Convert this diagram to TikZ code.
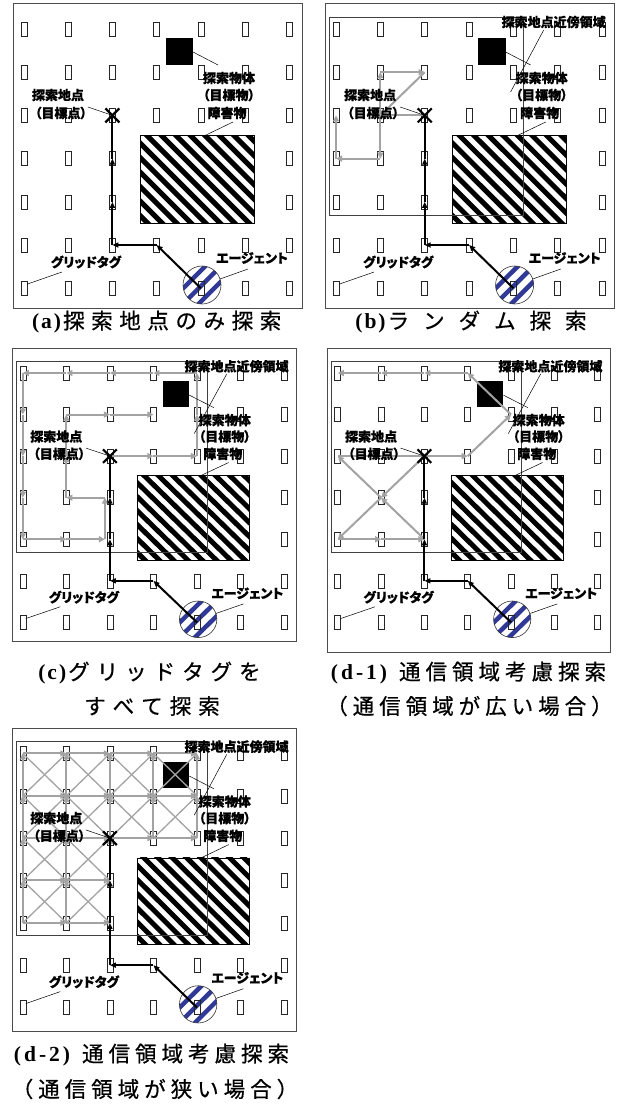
\documentclass[tikz,border=0pt]{standalone}
\usepackage{fontspec}
\usetikzlibrary{arrows.meta,calc}
\newfontfamily\jplbl[RawFeature=+palt, BoldFeatures={FakeBold=0.7}]{Noto Sans CJK JP}
\newfontfamily\jpcap[FakeBold=0.6]{Noto Sans CJK JP}
\newfontfamily\sercap{Liberation Serif}
\definecolor{gp}{RGB}{163,163,163}
\definecolor{agentblue}{RGB}{48,58,150}
\newlength\capls
\newcommand\capspaced[2]{\setlength\capls{#1}\capspacedaux#2\relax}
\def\capspacedaux#1{\ifx#1\relax\else#1\kern\capls\expandafter\capspacedaux\fi}

\tikzset{
  boxline/.style={draw=black!70, line width=0.8pt},
  tagbox/.style={draw=black!85, line width=0.6pt, minimum width=6pt, minimum height=14pt, inner sep=0pt, outer sep=0pt},
  lbl/.style={font=\jplbl\bfseries\fontsize{13}{14}\selectfont, inner sep=0pt},
  leader/.style={draw=black, line width=0.5pt},
  gpath/.style={draw=gp, line width=2pt, -{Triangle[length=6pt,width=6pt]}},
  gline/.style={draw=gp, line width=2pt},
  gdiag/.style={draw=gp, line width=1.3pt},
  bpath/.style={draw=black, line width=2pt, -{Triangle[length=6pt,width=5pt]}},
  bline/.style={draw=black, line width=2pt},
  nbr/.style={draw=black!75, line width=0.6pt},
  captxt/.style={font=\fontsize{21.5}{24}\selectfont, inner sep=0pt},
}

% #1 prefix, #2 x, #3 y, #4 xscale, #5 yscale, #6 box height
\newcommand\panelbase[6]{%
\begin{scope}[shift={(#2,#3)},xscale=#4,yscale=#5]
\draw[boxline] (0,0) rectangle (289,#6);
\begin{scope}
\clip (189,282) circle[radius=19];
\foreach \k in {-3,...,3}{\draw[agentblue,line width=4.5pt] ({159+\k*15.5},312) -- ++(60,-60);}
\end{scope}
\coordinate (#1-ac) at (189,282);
\draw[black!80,line width=0.6pt] (#1-ac) circle[radius=19];
\foreach \i in {0,...,6}{\foreach \j in {0,...,6}{\node[tagbox] (#1-\i-\j) at ({11+44.2*\i},{26+43.2*\j}) {};}}
\fill[white] (127,132.5) rectangle (241,220.5);
\begin{scope}
\clip (127,132.5) rectangle (241,220.5);
\foreach \k in {0,...,15}{\draw[black,line width=5pt] ({27+\k*14.5},127) -- ++(100,100);}
\end{scope}
\draw[black,line width=0.7pt] (127,132.5) rectangle (241,220.5);
\fill[black] (153,34.5) rectangle (180,61.5);
\coordinate (#1-n1) at (4,14);
\coordinate (#1-n2) at (198,212);
\end{scope}}

\newcommand\paneltop[6]{%
\begin{scope}[shift={(#2,#3)},xscale=#4,yscale=#5]
\draw[bpath] (#1-4-6.center) -- (#1-3-5.center);
\draw[bpath] (#1-3-5.center) -- (#1-2-5.center);
\draw[bpath] (#1-2-5.center) -- (#1-2-4.center);
\draw[bpath] (#1-2-4.center) -- (#1-2-3.center);
\draw[bline] (#1-2-3.center) -- (#1-2-2.center);
\draw[black,line width=2.2pt] (#1-2-2.center) ++(-7,-7) -- ++(14,14) (#1-2-2.center) ++(-7,7) -- ++(14,-14);
\node[lbl] (#1-lo1) at (216,75) {探索物体};
\node[lbl] (#1-lo2) at (216,92) {（目標物）};
\node[lbl] (#1-lob) at (214,110) {障害物};
\node[lbl] (#1-lt1) at (45,92) {探索地点};
\node[lbl] (#1-lt2) at (48,110) {（目標点）};
\node[lbl] (#1-lg) at (73,259) {グリッドタグ};
\node[lbl] (#1-la) at (239,255) {エージェント};
\coordinate (#1-sqr) at (180,49);
\coordinate (#1-k1) at (205,62);
\draw[leader] (#1-sqr) -- (#1-k1);
\coordinate (#1-obt) at (192,132.5);
\coordinate (#1-k2) at (220,119);
\draw[leader] (#1-obt) -- (#1-k2);
\coordinate (#1-k3) at (75,104);
\draw[leader] (#1-k3) -- (#1-2-2.center);
\coordinate (#1-k4) at (49,269);
\draw[leader] (#1-k4) -- ([yshift=4pt]#1-0-6.east);
\coordinate (#1-age) at (207,276);
\coordinate (#1-k5) at (235,266);
\draw[leader] (#1-age) -- (#1-k5);
\ifnum#6=1
\node[lbl] (#1-ln) at (228,19) {探索地点近傍領域};
\coordinate (#1-k6) at (218,27);
\coordinate (#1-k7) at (185,89);
\draw[leader] (#1-k6) -- (#1-k7);
\fi
\end{scope}}

\newcommand\gseq[2]{%
\foreach \ii/\jj [count=\nn, remember=\ii as \pii (initially 0), remember=\jj as \pjj (initially 0)] in {#2}{%
\ifnum\nn>1 \draw[gpath] (#1-\pii-\pjj.center) -- (#1-\ii-\jj.center);\fi}}

\begin{document}
\begin{tikzpicture}[x=1pt,y=-1pt]
\fill[white] (0,0) rectangle (626,1106);
\useasboundingbox (0,0) rectangle (626,1106);

% (a)
\panelbase{a}{13}{3}{1}{1}{305}
\paneltop{a}{13}{3}{1}{1}{0}

% (b)
\panelbase{b}{325}{3}{1.003}{1}{305}
\draw[nbr] (b-n1) rectangle (b-n2);
\gseq{b}{2/2,1/2,1/1,2/1,1/2,1/3,0/3,0/2}
\paneltop{b}{325}{3}{1.003}{1}{1}

% (c)
\panelbase{c}{12}{348}{0.985}{0.962}{305}
\draw[nbr] (c-n1) rectangle (c-n2);
\gseq{c}{2/2,3/2,4/2,4/1,4/0,3/0,2/0,1/0,0/0,0/1,0/2,0/3,0/4,1/4}
\draw[gpath] (c-1-4.center) -- ([xshift=-5pt]c-2-4.center);
\draw[gpath] ([xshift=-5pt]c-2-4.center) -- ([xshift=-5pt]c-2-3.center);
\draw[gpath] ([xshift=-5pt]c-2-3.center) -- (c-1-3.center);
\gseq{c}{1/3,1/2,1/1,2/1,3/1}
\paneltop{c}{12}{348}{0.985}{0.962}{1}

% (d-1)
\panelbase{d}{327}{348}{0.98}{0.962}{316}
\draw[nbr] (d-n1) rectangle (d-n2);
\gseq{d}{2/2,1/3,0/4,1/4,2/4,1/3,0/2}
\draw[gline] (d-0-2.center) -- (d-2-2.center);
\gseq{d}{2/2,3/2,4/1,3/0,2/0,1/0,0/0}
\paneltop{d}{327}{348}{0.98}{0.962}{1}

% (d-2)
\panelbase{e}{12}{728}{0.985}{0.98}{310}
\draw[nbr] (e-n1) rectangle (e-n2);
\foreach \i/\ip in {0/1,1/2,2/3,3/4}{\foreach \j/\jp in {0/1,1/2}{%
  \draw[gdiag] (e-\i-\jp.center) -- (e-\ip-\j.center);
  \draw[gdiag] (e-\ip-\jp.center) -- (e-\i-\j.center);}}
\foreach \i/\ip in {0/1,1/2}{\foreach \j/\jp in {2/3,3/4}{%
  \draw[gdiag] (e-\i-\jp.center) -- (e-\ip-\j.center);
  \draw[gdiag] (e-\ip-\jp.center) -- (e-\i-\j.center);}}
\foreach \j in {0,1,2}{\foreach \i/\ip in {0/1,1/2,2/3,3/4}{\draw[gpath] (e-\i-\j.center) -- (e-\ip-\j.center);}}
\foreach \j in {3,4}{\foreach \i/\ip in {0/1,1/2}{\draw[gpath] (e-\i-\j.center) -- (e-\ip-\j.center);}}
\foreach \i in {0,1,2}{\foreach \j/\jp in {0/1,1/2,2/3,3/4}{\draw[gpath] (e-\i-\jp.center) -- (e-\i-\j.center);}}
\foreach \i in {3,4}{\foreach \j/\jp in {0/1,1/2}{\draw[gpath] (e-\i-\jp.center) -- (e-\i-\j.center);}}
\paneltop{e}{12}{728}{0.985}{0.98}{1}

% captions
\node[captxt] (capa) at (160,322) {{\sercap\bfseries\capspaced{2pt}{(a)}}\jpcap\capspaced{6.6pt}{探索地点のみ探索}};
\node[captxt] (capb) at (478,322) {{\sercap\bfseries\capspaced{2pt}{(b)}}\jpcap\capspaced{14pt}{ランダム探索}};
\node[captxt] (capc1) at (153,673) {{\sercap\bfseries\capspaced{2pt}{(c)}}\jpcap\capspaced{7pt}{グリッドタグを}};
\node[captxt] (capc2) at (155.5,706) {\jpcap\capspaced{7pt}{すべて探索}};
\node[captxt] (capd1) at (471,673) {{\sercap\bfseries\capspaced{3pt}{(d-1)}}\hspace{9pt}\jpcap\capspaced{5pt}{通信領域考慮探索}};
\node[captxt] (capd2) at (472,706) {\jpcap\capspaced{5pt}{（通信領域が広い場合）}};
\node[captxt] (cape1) at (154,1055) {{\sercap\bfseries\capspaced{3pt}{(d-2)}}\hspace{9pt}\jpcap\capspaced{5pt}{通信領域考慮探索}};
\node[captxt] (cape2) at (157.5,1089) {\jpcap\capspaced{5pt}{（通信領域が狭い場合）}};
\end{tikzpicture}
\end{document}
